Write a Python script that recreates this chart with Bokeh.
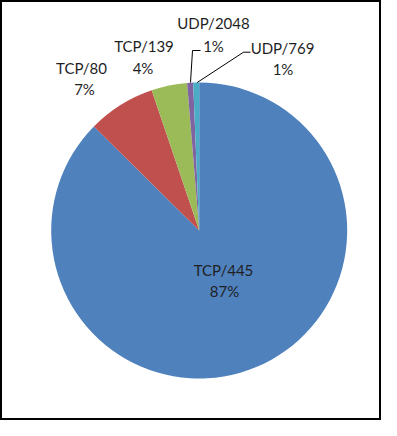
import numpy as np
from bokeh.plotting import figure
from bokeh.models import Range1d, ColumnDataSource
from bokeh.core.properties import value
from bokeh.embed import file_html
from bokeh.resources import INLINE

# ---- data ----
categories = ["TCP/445", "TCP/80", "TCP/139", "UDP/2048", "UDP/769"]
shares = [87.4, 7.4, 3.9, 0.65, 0.65]
colors = ["#4F81BD", "#C0504D", "#9BBB59", "#8064A2", "#4BACC6"]

# ---- layout (figure pixel space, y up) ----
W, H = 381, 420
def px(x, y):
    # reference-image pixel -> figure data coords
    return x, H - y

cx, cy = px(198.7, 230)
R = 148

# label centres (reference-image pixels): name line, percent line
label_name_pos = [(223, 269), (81, 67.5), (143.5, 45), (213, 22.5), (282, 47.5)]
label_pct_pos = [(224, 290), (84, 88.5), (142.5, 67), (213, 45), (282.5, 68.5)]

p = figure(width=W, height=H, output_backend="svg", toolbar_location=None,
           x_range=Range1d(0, W), y_range=Range1d(0, H), min_border=0)
p.axis.visible = False
p.grid.visible = False
p.background_fill_color = "white"
p.border_fill_color = "white"
p.outline_line_color = "black"
p.outline_line_width = 3

frac = np.array(shares) / np.sum(shares)
cum = np.concatenate([[0], np.cumsum(frac)])
start = np.pi / 2 - cum[1:] * 2 * np.pi
end = np.pi / 2 - cum[:-1] * 2 * np.pi

src = ColumnDataSource(dict(start=start, end=end, color=colors,
                            x=[cx] * len(shares), y=[cy] * len(shares)))
p.wedge(x="x", y="y", radius=R, start_angle="start", end_angle="end",
        fill_color="color", line_color=None, source=src)

# leader lines for the two small slices
for pts in ([(190, 82), (192, 50), (200, 50)],
            [(196.7, 82), (243, 51.7), (250, 51.7)]):
    xs, ys = zip(*[px(a, b) for a, b in pts])
    p.line(list(xs), list(ys), line_color="black", line_width=1)

names_xy = [px(a, b) for a, b in label_name_pos]
pct_xy = [px(a, b) for a, b in label_pct_pos]
pct_text = [f"{round(v)}%" for v in shares]

lab = ColumnDataSource(dict(
    x=[q[0] for q in names_xy] + [q[0] for q in pct_xy],
    y=[q[1] for q in names_xy] + [q[1] for q in pct_xy],
    t=categories + pct_text))
p.text(x="x", y="y", text="t", source=lab, text_align="center",
       text_baseline="middle", text_font=value("Lato"),
       text_font_size="15px", text_color="#1F1F1F")

open("out.html", "w").write(file_html(p, INLINE))
